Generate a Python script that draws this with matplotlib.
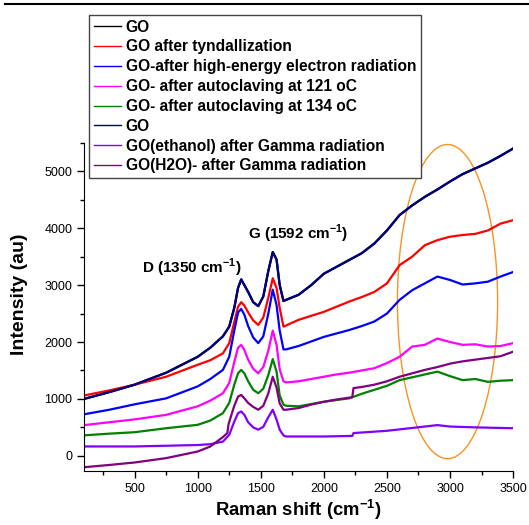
import matplotlib

matplotlib.use("Agg")
import matplotlib.pyplot as plt
from matplotlib.patches import Ellipse
from matplotlib.lines import Line2D
from matplotlib.ticker import MultipleLocator

plt.rcParams["font.family"] = ["Liberation Sans", "DejaVu Sans"]
plt.rcParams["mathtext.fontset"] = "custom"
plt.rcParams["mathtext.rm"] = "Liberation Sans"
plt.rcParams["mathtext.bf"] = "Liberation Sans:bold"

# Raman shift grid (cm-1) shared by the smooth spectra
shift = [100, 300, 500, 750, 1000, 1100, 1200, 1250, 1290, 1320, 1345, 1370, 1400, 1440,
         1480, 1520, 1560, 1595, 1625, 1650, 1680, 1700, 1800, 1900, 2000, 2100, 2200,
         2300, 2400, 2500, 2600, 2700, 2800, 2900, 3000, 3100, 3200, 3300, 3400, 3500]

go_navy = [1000, 1120, 1250, 1460, 1740, 1900, 2100, 2270, 2600, 2950, 3100, 3000, 2880, 2700,
           2630, 2800, 3250, 3580, 3450, 3000, 2720, 2740, 2830, 3000, 3200, 3320, 3440,
           3560, 3730, 3960, 4230, 4400, 4550, 4680, 4820, 4950, 5050, 5150, 5270, 5400]
go_tynd = [1060, 1150, 1250, 1390, 1600, 1680, 1800, 1980, 2350, 2620, 2700, 2640, 2520, 2380,
           2300, 2430, 2780, 3120, 2950, 2600, 2270, 2290, 2390, 2460, 2530, 2620, 2710,
           2790, 2880, 3030, 3350, 3500, 3700, 3790, 3850, 3880, 3900, 3960, 4080, 4140]
go_electron = [730, 810, 905, 1010, 1220, 1350, 1510, 1740, 2200, 2520, 2580, 2480, 2280, 2080,
               1980, 2100, 2500, 2920, 2650, 2200, 1870, 1870, 1930, 2010, 2090, 2150, 2210,
               2280, 2360, 2500, 2740, 2910, 3030, 3150, 3090, 3010, 3030, 3060, 3150, 3230]
go_auto121 = [540, 590, 640, 720, 870, 970, 1100, 1280, 1650, 1900, 1950, 1860, 1690, 1530,
              1450, 1560, 1850, 2200, 1950, 1520, 1310, 1290, 1310, 1350, 1390, 1430, 1460,
              1500, 1540, 1630, 1740, 1920, 1950, 2060, 2000, 1950, 1960, 1920, 1930, 1980]
go_auto134 = [360, 390, 415, 485, 545, 620, 750, 930, 1250, 1450, 1510, 1450, 1310, 1160,
              1100, 1180, 1420, 1700, 1480, 1060, 900, 880, 870, 910, 950, 980, 1010,
              1090, 1160, 1230, 1330, 1380, 1430, 1480, 1400, 1330, 1350, 1300, 1320, 1330]

shift_h2o = [100, 300, 500, 750, 1000, 1100, 1200, 1235, 1245, 1290, 1320, 1345, 1370, 1400,
             1440, 1480, 1520, 1560, 1595, 1625, 1650, 1680, 1700, 1800, 1900, 2000, 2100,
             2225, 2235, 2300, 2400, 2500, 2600, 2700, 2800, 2900, 3000, 3100, 3200, 3300,
             3400, 3500]
go_h2o_gamma = [-200, -160, -117, -40, 76, 164, 330, 400, 560, 880, 1040, 1070, 1010, 930,
                860, 810, 880, 1100, 1390, 1200, 920, 810, 810, 840, 900, 950, 990,
                1030, 1190, 1210, 1250, 1310, 1390, 1450, 1510, 1560, 1620, 1660, 1690, 1720,
                1750, 1830]

shift_eth = [100, 500, 1000, 1100, 1200, 1250, 1290, 1320, 1345, 1370, 1400, 1440, 1480, 1520,
             1560, 1595, 1625, 1650, 1680, 1700, 1800, 2000, 2225, 2235, 2500, 2700, 2900,
             3000, 3200, 3500]
go_eth_gamma = [165, 165, 190, 205, 250, 370, 600, 750, 780, 720, 590, 500, 460, 510,
                680, 810, 640, 460, 360, 340, 340, 340, 350, 400, 440, 490, 540,
                515, 500, 485]

labels = ["GO", "GO after tyndallization", "GO-after high-energy electron radiation",
          "GO- after autoclaving at 121 oC", "GO- after autoclaving at 134 oC", "GO",
          "GO(ethanol) after Gamma radiation", "GO(H2O)- after Gamma radiation"]
colors = ["#000000", "#ff0000", "#0000ff", "#ff00ff", "#008000", "#000080", "#8000ff", "#800080"]

series = [(shift, go_navy), (shift, go_tynd), (shift, go_electron), (shift, go_auto121),
          (shift, go_auto134), (shift, go_navy), (shift_eth, go_eth_gamma),
          (shift_h2o, go_h2o_gamma)]

fig = plt.figure(figsize=(5.29, 5.25), dpi=100)
ax = fig.add_axes([0.159, 0.103, 0.811, 0.625])

for (xs, ys), lab, col in zip(series, labels, colors):
    ax.plot(xs, ys, color=col, linewidth=1.6, label=lab)

ax.add_patch(Ellipse((2980, 2710), 794, 5520, fill=False, edgecolor="#f7931e", linewidth=1.0))

ax.text(560, 3300, r"D (1350 cm$^{\mathbf{-1}}$)", fontsize=11, fontweight="bold", va="center")
ax.text(1400, 3900, r"G (1592 cm$^{\mathbf{-1}}$)", fontsize=11, fontweight="bold", va="center")

ax.set_xlim(100, 3500)
ax.set_ylim(-265, 5500)
ax.xaxis.set_major_locator(MultipleLocator(500))
ax.xaxis.set_minor_locator(MultipleLocator(250))
ax.yaxis.set_major_locator(MultipleLocator(1000))
ax.yaxis.set_minor_locator(MultipleLocator(500))
ax.tick_params(which="both", direction="out", width=1, labelsize=9)
ax.tick_params(which="major", length=5)
ax.tick_params(which="minor", length=3)
ax.spines["top"].set_visible(False)
ax.spines["right"].set_visible(False)

ax.set_xlabel(r"Raman shift (cm$^{\mathbf{-1}}$)", fontsize=13.3, fontweight="bold", labelpad=2)
ax.set_ylabel("Intensity (au)", fontsize=14, fontweight="bold")
ax.yaxis.set_label_coords(-0.1305, 0.537)

leg = ax.legend(loc="upper left", bbox_to_anchor=(89 / 529, 1 - 15 / 525),
                bbox_transform=fig.transFigure, borderaxespad=0, fancybox=False,
                edgecolor="#444444", framealpha=1, prop={"weight": "bold", "size": 11.2},
                handlelength=1.75, handletextpad=0.3, labelspacing=0.31, borderpad=0.3)
leg.get_frame().set_linewidth(1.0)
for h in leg.get_lines():
    h.set_linewidth(1.0)

fig.add_artist(Line2D([0.01, 1.0], [0.992, 0.992], color="black", linewidth=1.5))

fig.savefig("out.png", dpi=100)
